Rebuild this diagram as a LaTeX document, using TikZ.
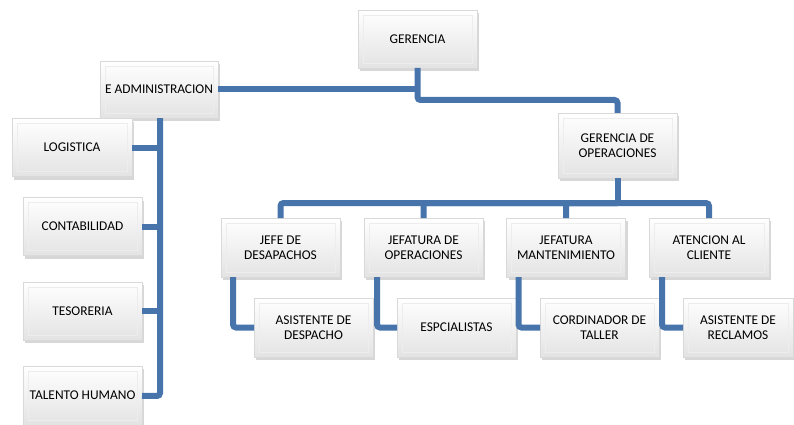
\documentclass[tikz,border=0pt]{standalone}
\usepackage{fontspec}
\setmainfont{Carlito}
\usepackage{xcolor}
\usetikzlibrary{shadows}
\definecolor{linkblue}{RGB}{72,116,172}

\tikzset{
  box/.style={rectangle, draw=gray!30, line width=0.6pt, top color=white, bottom color=gray!22,
    minimum width=119pt, minimum height=58pt, align=center, inner sep=2pt, outer sep=0pt,
    font=\fontsize{13.4}{15.5}\selectfont,
    path picture={\draw[gray!14, line width=0.8pt]
      ([shift={(5pt,-5pt)}]path picture bounding box.north west) rectangle
      ([shift={(-5pt,5pt)}]path picture bounding box.south east);},
    drop shadow={shadow xshift=2pt, shadow yshift=-3pt, opacity=0.45, fill=gray!70}},
  link/.style={linkblue, line width=6pt, rounded corners=3pt}
}

\begin{document}
\begin{tikzpicture}[x=1pt, y=-1pt]
  \useasboundingbox (0,0) rectangle (794,425);

  % Top level
  \node[box] (gerencia) at (417.5,39) {GERENCIA};
  \node[box, minimum width=118pt, minimum height=57pt] (admin) at (159,89.5) {E ADMINISTRACION};
  \node[box, minimum height=65pt] (gdo) at (617.5,145.5) {GERENCIA DE\\OPERACIONES};

  % Administration column
  \node[box, minimum width=120pt] (logistica) at (72,147.5) {LOGISTICA};
  \node[box] (contab) at (82.5,226.5) {CONTABILIDAD};
  \node[box] (tesor) at (82.5,311) {TESORERIA};
  \node[box, minimum height=59pt] (talento) at (82.5,395.5) {TALENTO HUMANO};

  % Operations heads
  \node[box, minimum height=59pt] (jefe) at (280.5,247.5) {JEFE DE\\DESAPACHOS};
  \node[box, minimum height=59pt] (jefop) at (423.5,247.5) {JEFATURA DE\\OPERACIONES};
  \node[box, minimum height=59pt] (jefman) at (566,247.5) {JEFATURA\\MANTENIMIENTO};
  \node[box, minimum width=120pt, minimum height=59pt] (atencion) at (709,247.5) {ATENCION AL\\CLIENTE};

  % Assistants
  \node[box, minimum height=59pt] (asisdesp) at (313.5,327.5) {ASISTENTE DE\\DESPACHO};
  \node[box, minimum height=59pt] (espc) at (456.5,327.5) {ESPCIALISTAS};
  \node[box, minimum height=59pt] (cordi) at (599.5,327.5) {CORDINADOR DE\\TALLER};
  \node[box, minimum width=110pt, minimum height=59pt] (asisrec) at (738,327.5) {ASISTENTE DE\\RECLAMOS};

  % Junctions
  \coordinate (gj) at (417.5,100);
  \coordinate (lbus) at (160,396);
  \coordinate (obus) at (617.5,203);

  % Links from the top
  \draw[link] (gerencia) -- (gj) -| (gdo);
  \draw[link] (admin) -- (admin -| gj);

  % Administration links
  \draw[link] (admin.south -| lbus) -- (lbus) -- (talento);
  \draw[link] (logistica) -- (logistica -| lbus);
  \draw[link] (contab) -- (contab -| lbus);
  \draw[link] (tesor) -- (tesor -| lbus);

  % Operations links
  \draw[link] (gdo) -- (obus);
  \draw[link] (obus) -| (jefe);
  \draw[link] (obus) -| (jefop);
  \draw[link] (obus) -| (jefman);
  \draw[link] (obus) -| (atencion);

  % Assistant links
  \draw[link] ([xshift=12pt]jefe.south west) |- (asisdesp);
  \draw[link] ([xshift=13pt]jefop.south west) |- (espc);
  \draw[link] ([xshift=12pt]jefman.south west) |- (cordi);
  \draw[link] ([xshift=13pt]atencion.south west) |- (asisrec);
\end{tikzpicture}
\end{document}
